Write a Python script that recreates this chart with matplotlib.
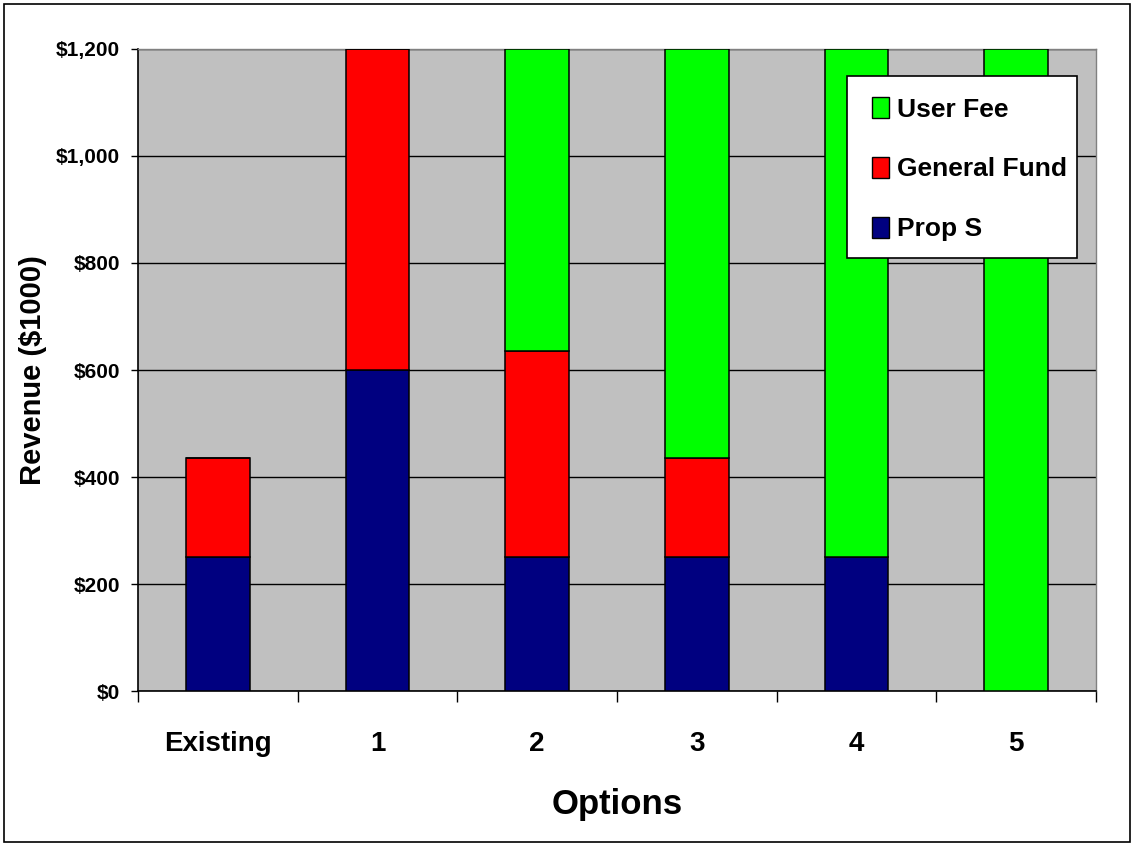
import matplotlib.pyplot as plt
from matplotlib.patches import Rectangle, Patch
from matplotlib.ticker import FixedLocator, FuncFormatter

# Revenue by funding source, in $1000
categories = ['Existing', '1', '2', '3', '4', '5']
prop_s = [250, 600, 250, 250, 250, 0]
general_fund = [185, 600, 385, 185, 0, 0]
user_fee = [0, 0, 565, 765, 950, 1200]

NAVY = '#000080'
RED = '#FF0000'
GREEN = '#00FF00'
FONT = 'Liberation Sans'

fig = plt.figure(figsize=(11.34, 8.46), dpi=100)
ax = fig.add_axes([138 / 1134, 1 - 691 / 846, 958 / 1134, 642 / 846])
ax.set_facecolor('#C0C0C0')

x = list(range(len(categories)))
width = 0.4
bottom2 = [a + b for a, b in zip(prop_s, general_fund)]

edge = dict(edgecolor='black', linewidth=1.1, zorder=3)
ax.bar(x, prop_s, width, color=NAVY, **edge)
ax.bar(x, general_fund, width, bottom=prop_s, color=RED, **edge)
ax.bar(x, user_fee, width, bottom=bottom2, color=GREEN, **edge)

ax.set_xlim(-0.5, len(categories) - 0.5)
ax.set_ylim(0, 1200)

# horizontal gridlines
ax.set_yticks(range(0, 1201, 200))
ax.yaxis.grid(True, color='black', linewidth=1.0)
ax.set_axisbelow(True)
ax.yaxis.set_major_formatter(FuncFormatter(lambda v, p: '${:,.0f}'.format(v)))
ax.tick_params(axis='y', direction='out', length=5, width=1, pad=8,
               labelsize=15, color='black')
for lab in ax.get_yticklabels():
    lab.set_family(FONT)
    lab.set_fontweight('bold')

# category labels centered, tick marks between categories
ax.set_xticks(x)
ax.set_xticklabels(categories, family=FONT, fontweight='bold', fontsize=20)
ax.tick_params(axis='x', which='major', length=0, pad=29)
ax.xaxis.set_minor_locator(FixedLocator([i - 0.5 for i in range(len(categories) + 1)]))
ax.tick_params(axis='x', which='minor', direction='out', length=8, width=1,
               color='black')

ax.set_xlabel('Options', family=FONT, fontweight='bold', fontsize=25,
              labelpad=22)
ax.set_ylabel('Revenue ($1000)', family=FONT, fontweight='bold',
              fontsize=21, labelpad=6)

for side in ['top', 'right']:
    ax.spines[side].set_color('#808080')
    ax.spines[side].set_linewidth(1)
for side in ['left', 'bottom']:
    ax.spines[side].set_color('black')
    ax.spines[side].set_linewidth(1.2)

# legend box
fig.add_artist(Rectangle((847 / 1134, 1 - 258 / 846), 230 / 1134, 182 / 846,
                         transform=fig.transFigure, facecolor='white',
                         edgecolor='black', linewidth=1.2, zorder=3))
handles = [Patch(facecolor=GREEN, edgecolor='black', linewidth=1),
           Patch(facecolor=RED, edgecolor='black', linewidth=1),
           Patch(facecolor=NAVY, edgecolor='black', linewidth=1)]
fig.legend(handles, ['User Fee', 'General Fund', 'Prop S'],
           loc='upper left', bbox_to_anchor=(872 / 1134, 1 - 97 / 846),
           frameon=False, borderpad=0, borderaxespad=0,
           prop=dict(family=FONT, weight='bold', size=19),
           handlelength=0.65, handleheight=0.85, handletextpad=0.3,
           labelspacing=1.33)

# outer chart border
fig.add_artist(Rectangle((4 / 1134, 4 / 846), 1126 / 1134, 838 / 846,
                         transform=fig.transFigure, fill=False,
                         edgecolor='black', linewidth=1.2))

fig.savefig('out.png', dpi=100)
